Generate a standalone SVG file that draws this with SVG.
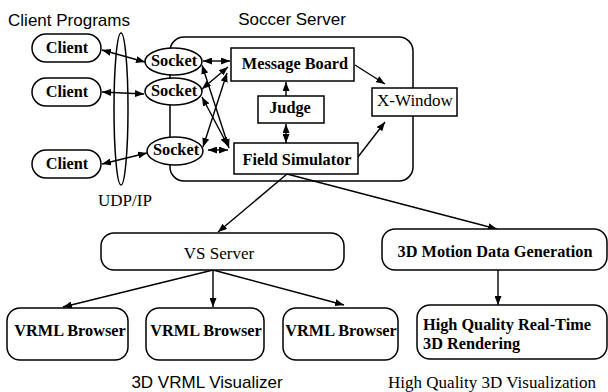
<svg xmlns="http://www.w3.org/2000/svg" width="608" height="392" viewBox="0 0 608 392">
<defs>
<marker id="ah" viewBox="0 0 9 7" refX="9" refY="3.5" markerWidth="9" markerHeight="7" markerUnits="userSpaceOnUse" orient="auto-start-reverse">
<path d="M0,0 L9,3.5 L0,7 z" fill="#000"/>
</marker>
<style>
.box{fill:#fff;stroke:#000;stroke-width:1.5}
.frame{fill:none;stroke:#000;stroke-width:1.5}
.ln{fill:none;stroke:#000;stroke-width:1.4}
.one{marker-end:url(#ah)}
.two{marker-start:url(#ah);marker-end:url(#ah)}
.b{font-family:"Liberation Serif",serif;font-weight:bold;font-size:16.3px;text-anchor:middle}
.bl{font-family:"Liberation Serif",serif;font-weight:bold;font-size:16.3px;text-anchor:start}
.r{font-family:"Liberation Serif",serif;font-size:17px;text-anchor:middle}
.s{font-family:"Liberation Sans",Arial,sans-serif;font-size:17px;text-anchor:middle}
</style>
</defs>
<rect width="608" height="392" fill="#fff"/>

<text class="s" x="69" y="26">Client Programs</text>
<text class="s" x="292" y="25">Soccer Server</text>
<text class="r" x="125" y="206">UDP/IP</text>
<text class="s" x="207" y="388">3D VRML Visualizer</text>
<text class="r" x="492" y="388">High Quality 3D Visualization</text>

<g id="soccer-server"><rect class="frame" x="170" y="37" width="243" height="144" rx="14"/></g>
<g id="udp-ip"><ellipse class="frame" cx="121" cy="109" rx="7" ry="76"/></g>

<g id="connectors">
<line class="ln two" x1="102" y1="50" x2="145" y2="62"/>
<line class="ln two" x1="102" y1="92" x2="144" y2="94"/>
<line class="ln two" x1="102" y1="164" x2="147" y2="153"/>
<line class="ln two" x1="203" y1="61" x2="230" y2="61"/>
<line class="ln two" x1="202" y1="65" x2="229" y2="148"/>
<line class="ln two" x1="202" y1="89" x2="228" y2="67"/>
<line class="ln two" x1="202" y1="97" x2="228" y2="146"/>
<line class="ln two" x1="203" y1="147" x2="227" y2="73"/>
<line class="ln two" x1="208" y1="150" x2="228" y2="150"/>
<line class="ln one" x1="355" y1="65" x2="385" y2="84"/>
<line class="ln one" x1="358" y1="157" x2="385" y2="122"/>
<line class="ln one" x1="286" y1="96" x2="286" y2="82"/>
<line class="ln two" x1="286" y1="124" x2="286" y2="143"/>
<line class="ln one" x1="287" y1="174" x2="218" y2="232"/>
<line class="ln one" x1="287" y1="174" x2="497" y2="229"/>
<line class="ln one" x1="213" y1="270" x2="63" y2="307"/>
<line class="ln one" x1="213" y1="270" x2="213" y2="307"/>
<line class="ln one" x1="213" y1="270" x2="344" y2="305"/>
<line class="ln one" x1="498" y1="270" x2="498" y2="305"/>
</g>

<g id="client1"><rect class="box" x="32" y="34" width="69" height="28" rx="14"/><text class="b" x="67" y="53">Client</text></g>
<g id="client2"><rect class="box" x="32" y="78" width="69" height="28" rx="14"/><text class="b" x="67" y="97">Client</text></g>
<g id="client3"><rect class="box" x="32" y="150" width="69" height="28" rx="14"/><text class="b" x="67" y="169">Client</text></g>

<g id="socket1"><ellipse class="box" cx="173.5" cy="61.5" rx="28.5" ry="13.5"/><text class="b" x="174" y="66">Socket</text></g>
<g id="socket2"><ellipse class="box" cx="173.5" cy="91.5" rx="28.5" ry="13.5"/><text class="b" x="174" y="96">Socket</text></g>
<g id="socket3"><ellipse class="box" cx="175" cy="151" rx="28" ry="14"/><text class="b" x="176" y="155">Socket</text></g>

<g id="message-board"><rect class="box" x="231" y="48" width="123" height="33"/><text class="b" x="295" y="69">Message Board</text></g>
<g id="judge"><rect class="box" x="258" y="96" width="66" height="27"/><text class="b" x="290" y="113">Judge</text></g>
<g id="field-simulator"><rect class="box" x="234" y="143" width="124" height="31"/><text class="b" x="297" y="165">Field Simulator</text></g>
<g id="x-window"><rect class="box" x="372" y="88" width="85" height="28"/><text class="r" x="415" y="106">X-Window</text></g>

<g id="vs-server"><rect class="box" x="101" y="233" width="243" height="37" rx="13"/><text class="r" x="219" y="259">VS Server</text></g>
<g id="motion-data"><rect class="box" x="382" y="229" width="225" height="41" rx="13"/><text class="b" x="495" y="257">3D Motion Data Generation</text></g>

<g id="vrml1"><rect class="box" x="7" y="308" width="121" height="52" rx="13"/><text class="b" x="70" y="336">VRML Browser</text></g>
<g id="vrml2"><rect class="box" x="146" y="308" width="118" height="52" rx="13"/><text class="b" x="206" y="336">VRML Browser</text></g>
<g id="vrml3"><rect class="box" x="283" y="308" width="115" height="52" rx="13"/><text class="b" x="341" y="336">VRML Browser</text></g>
<g id="hq-rendering"><rect class="box" x="417" y="305" width="190" height="54" rx="13"/><text class="bl" x="423" y="330">High Quality Real-Time</text><text class="bl" x="423" y="349">3D Rendering</text></g>
</svg>
